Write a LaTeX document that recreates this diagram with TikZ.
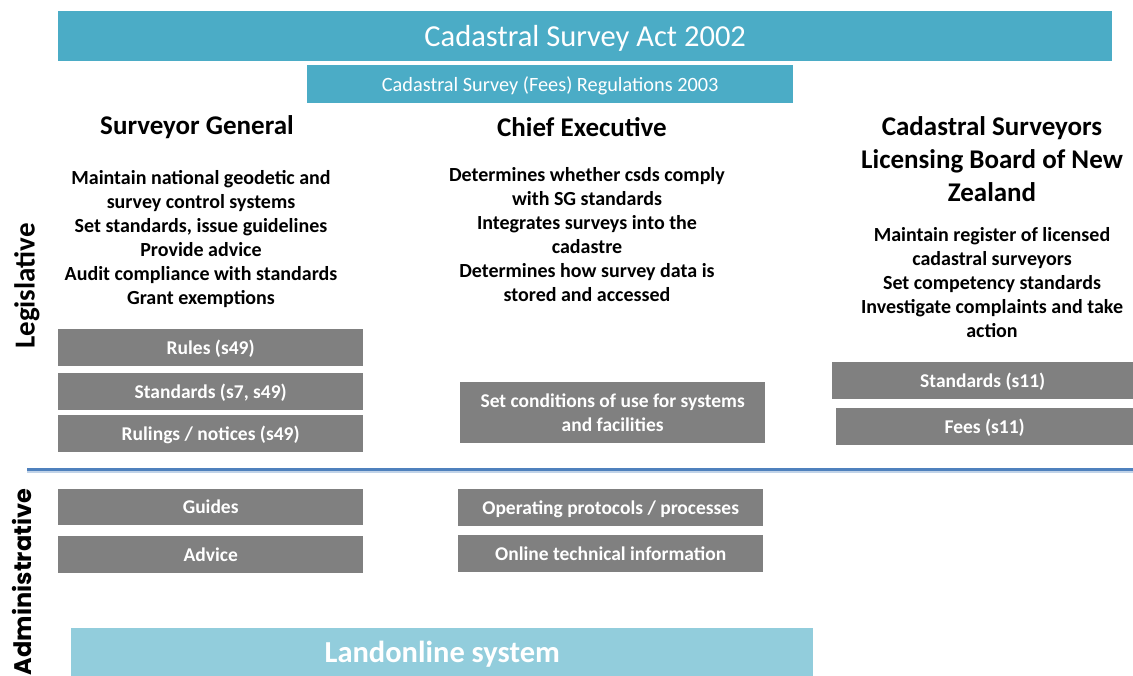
\documentclass[tikz,border=0pt]{standalone}
\usepackage{fontspec}
\setmainfont{Carlito}
\newfontfamily\sidefont{Poppins}
\usepackage{tikz}

\definecolor{actblue}{HTML}{4BACC6}
\definecolor{lightblue}{HTML}{92CDDC}
\definecolor{boxgray}{HTML}{808080}
\definecolor{lineblue}{HTML}{4F81BD}

\tikzset{
	actbar/.style={fill=actblue,text=white,inner sep=0pt,anchor=north west,text depth=0pt},
	graybox/.style={fill=boxgray,text=white,inner sep=0pt,anchor=north west,align=center,
		font=\fontsize{19.5}{24}\selectfont\bfseries},
	head/.style={align=center,font=\fontsize{27}{33}\selectfont\bfseries},
	duties/.style={align=center,font=\fontsize{20}{24}\selectfont\bfseries},
	side/.style={rotate=90,font=\fontsize{29}{32}\selectfont\bfseries}
}

\begin{document}
\begin{tikzpicture}[x=1pt,y=-1pt]
	\useasboundingbox (0,0) rectangle (1133,675);

	%acts
	\node[actbar,minimum width=1054pt,minimum height=50pt,font=\fontsize{30.5}{32}\selectfont] (act) at (58,11) {Cadastral Survey Act 2002};
	\node[actbar,minimum width=486pt,minimum height=38pt,font=\fontsize{20.3}{22}\selectfont] (regs) at (307,65) {Cadastral Survey (Fees) Regulations 2003};

	%headings
	\node[head] (sg) at (197,127) {Surveyor General};
	\node[head] (ce) at (582,127) {Chief Executive};
	\node[head,anchor=north] (board) at (992,113) {Cadastral Surveyors\\Licensing Board of New\\Zealand};

	%duties
	\node[duties,anchor=north] (sgdo) at (201,167) {Maintain national geodetic and\\survey control systems\\Set standards, issue guidelines\\Provide advice\\Audit compliance with standards\\Grant exemptions};
	\node[duties,anchor=north] (cedo) at (587,164) {Determines whether csds comply\\with SG standards\\Integrates surveys into the\\cadastre\\Determines how survey data is\\stored and accessed};
	\node[duties,anchor=north] (boarddo) at (992,224) {Maintain register of licensed\\cadastral surveyors\\Set competency standards\\Investigate complaints and take\\action};

	%legislative instruments
	\node[graybox,minimum width=305pt,minimum height=37pt,text depth=0pt] (rules) at (58,329) {Rules (s49)};
	\node[graybox,minimum width=305pt,minimum height=37pt,text depth=0pt] (sgstd) at (58,373) {Standards (s7, s49)};
	\node[graybox,minimum width=305pt,minimum height=37pt,text depth=0pt] (rulings) at (58,415) {Rulings / notices (s49)};
	\node[graybox,minimum width=305pt,minimum height=61pt] (cond) at (460,382) {Set conditions of use for systems\\and facilities};
	\node[graybox,minimum width=301pt,minimum height=37pt,text depth=0pt] (bstd) at (832,362) {Standards (s11)};
	\node[graybox,minimum width=297pt,minimum height=37pt,text depth=0pt] (fees) at (836,408) {Fees (s11)};

	%divider
	\coordinate (divl) at (27,469);
	\coordinate (divr) at (1133,469);
	\draw[lineblue!35,line width=3pt] ([yshift=-2pt]divl)--([yshift=-2pt]divr);
	\draw[lineblue,line width=3pt] (divl)--(divr);

	%administrative instruments
	\node[graybox,minimum width=305pt,minimum height=36pt] (guides) at (58,489) {Guides};
	\node[graybox,minimum width=305pt,minimum height=37pt] (advice) at (58,536) {Advice};
	\node[graybox,minimum width=305pt,minimum height=37pt,text depth=0pt] (proto) at (458,489) {Operating protocols / processes};
	\node[graybox,minimum width=305pt,minimum height=37pt] (online) at (458,535) {Online technical information};

	\node[fill=lightblue,text=white,inner sep=0pt,anchor=north west,minimum width=742pt,minimum height=52pt,
		font=\fontsize{30.5}{32}\selectfont\bfseries] (landonline) at (71,628) {Landonline system};

	%side labels
	\node[side] (legis) at (27,286) {Legislative};
	\node[side,font=\fontsize{24}{26}\sidefont\bfseries] (admin) at (22,582) {Administrative};
\end{tikzpicture}
\end{document}
